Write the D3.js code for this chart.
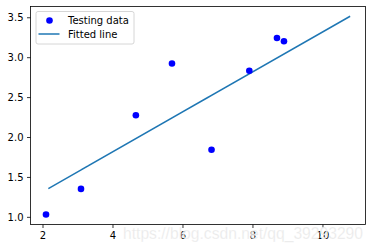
<!DOCTYPE html>
<html>
<head>
<meta charset="utf-8">
<script src="https://cdn.jsdelivr.net/npm/d3@7"></script>
<style>
  html, body { margin: 0; padding: 0; background: #fff; }
  text { font-family: "DejaVu Sans", sans-serif; }
</style>
</head>
<body>
<svg id="chart" width="372" height="248"></svg>
<script>
// test points
var testX = [6.83, 4.668, 8.9, 7.91, 5.7, 8.7, 3.1, 2.1];
var testY = [1.84, 2.273, 3.2, 2.831, 2.92, 3.24, 1.35, 1.03];
// fitted line, drawn through the training x values in their original order
var trainX = [3.3, 4.4, 5.5, 6.71, 6.93, 4.168, 9.779, 6.182, 7.59, 2.167, 7.042, 10.791, 5.313, 7.997, 5.654, 9.27, 3.1];
var fitY = [1.638, 1.913, 2.189, 2.492, 2.547, 1.855, 3.260, 2.359, 2.712, 1.354, 2.575, 3.513, 2.142, 2.814, 2.227, 3.132, 1.588];
var xTicks = [2, 4, 6, 8, 10];
var yTicks = [1.0, 1.5, 2.0, 2.5, 3.0, 3.5];
var legendLabels = ['Testing data', 'Fitted line'];

var svg = d3.select('#chart');
// plot box (named to avoid window.top clash)
var box = { left: 30.5, right: 365.5, top: 6.5, bottom: 224.5 };

var x = d3.scaleLinear().domain([1.657, 11.23]).range([box.left, box.right]);
var y = d3.scaleLinear().domain([0.904, 3.635]).range([box.bottom, box.top]);

// fitted line
var line = d3.line()
  .x(function(d, i) { return x(trainX[i]); })
  .y(function(d) { return y(d); });
svg.append('path')
  .datum(fitY)
  .attr('d', line)
  .attr('fill', 'none')
  .attr('stroke', '#1f77b4')
  .attr('stroke-width', 1.5);

// test points
svg.selectAll('circle.pt')
  .data(testX)
  .enter().append('circle')
  .attr('class', 'pt')
  .attr('cx', function(d) { return x(d); })
  .attr('cy', function(d, i) { return y(testY[i]); })
  .attr('r', 3.3)
  .attr('fill', '#0000ff');

// axes
var xAxis = d3.axisBottom(x).tickValues(xTicks).tickSize(3.5).tickPadding(3.5).tickFormat(d3.format('d'));
var yAxis = d3.axisLeft(y).tickValues(yTicks).tickSize(3.5).tickPadding(3.5).tickFormat(d3.format('.1f'));

var gx = svg.append('g').attr('transform', 'translate(0,' + box.bottom + ')').call(xAxis);
var gy = svg.append('g').attr('transform', 'translate(' + box.left + ',0)').call(yAxis);
[gx, gy].forEach(function(g) {
  g.select('.domain').remove();
  g.selectAll('line').attr('stroke', '#000').attr('stroke-width', 0.8);
  g.selectAll('text').attr('fill', '#000').style('font-size', '10px').style('font-family', 'DejaVu Sans');
});

// frame
svg.append('rect')
  .attr('x', box.left).attr('y', box.top)
  .attr('width', box.right - box.left).attr('height', box.bottom - box.top)
  .attr('fill', 'none').attr('stroke', '#000').attr('stroke-width', 0.8);

// legend
var lg = svg.append('g');
lg.append('rect')
  .attr('x', 36).attr('y', 11.5).attr('width', 98).attr('height', 32.5).attr('rx', 2)
  .attr('fill', '#fff').attr('fill-opacity', 0.8)
  .attr('stroke', '#ccc').attr('stroke-width', 0.8);
lg.append('circle').attr('cx', 49.5).attr('cy', 20.5).attr('r', 3.3).attr('fill', '#0000ff');
lg.append('line').attr('x1', 38.5).attr('x2', 59.5).attr('y1', 34).attr('y2', 34)
  .attr('stroke', '#1f77b4').attr('stroke-width', 1.5);
lg.selectAll('text.lab')
  .data(legendLabels)
  .enter().append('text')
  .attr('class', 'lab')
  .attr('x', 68)
  .attr('y', function(d, i) { return 24 + i * 14; })
  .style('font-size', '10px')
  .attr('fill', '#000')
  .text(function(d) { return d; });

// watermark
svg.append('text')
  .attr('x', 123).attr('y', 239)
  .attr('textLength', 240).attr('lengthAdjust', 'spacingAndGlyphs')
  .style('font-family', 'Liberation Sans, Arial, sans-serif')
  .style('font-size', '16px')
  .attr('fill', '#e4e4e4')
  .attr('fill-opacity', 0.85)
  .attr('stroke', '#fff').attr('stroke-width', 0.5).attr('stroke-opacity', 0.6)
  .text('https://blog.csdn.net/qq_39293290');
</script>
</body>
</html>
